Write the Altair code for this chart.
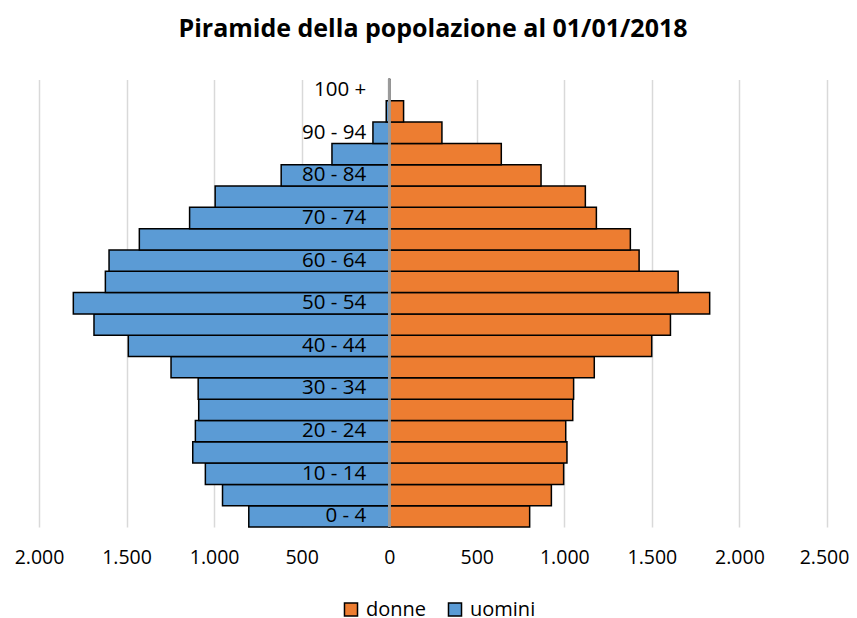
import altair as alt
import pandas as pd

ages = ["0 - 4", "5 - 9", "10 - 14", "15 - 19", "20 - 24", "25 - 29", "30 - 34",
        "35 - 39", "40 - 44", "45 - 49", "50 - 54", "55 - 59", "60 - 64", "65 - 69",
        "70 - 74", "75 - 79", "80 - 84", "85 - 89", "90 - 94", "95 - 99", "100 +"]
uomini = [802, 952, 1050, 1122, 1107, 1088, 1091, 1246, 1490, 1686, 1804, 1621,
          1600, 1427, 1140, 994, 617, 327, 93, 17, 3]
donne = [802, 926, 996, 1015, 1008, 1048, 1053, 1171, 1499, 1606, 1830, 1650,
         1427, 1377, 1183, 1120, 867, 640, 301, 82, 4]
tick_values = [-2000, -1500, -1000, -500, 0, 500, 1000, 1500, 2000, 2500]

rows = []
for a, m, f in zip(ages, uomini, donne):
    rows.append({"age": a, "sesso": "uomini", "value": -m})
    rows.append({"age": a, "sesso": "donne", "value": f})
df = pd.DataFrame(rows)

labels_df = pd.DataFrame({"age": [a for i, a in enumerate(ages) if i % 2 == 0]})
labels_df["zero"] = 0

order = list(reversed(ages))
FONT = "Open Sans"

xscale = alt.Scale(domain=[-2000, 2500], nice=False, zero=False)
yscale = alt.Scale(domain=order, paddingInner=0, paddingOuter=0)

bars = alt.Chart(df).mark_bar(stroke="black", strokeWidth=1.5).encode(
    x=alt.X("value:Q", scale=xscale,
            axis=alt.Axis(values=tick_values, title=None, domain=False, ticks=False,
                          grid=True, gridColor="#d9d9d9", gridWidth=1.5,
                          labelFont=FONT, labelFontSize=19.5, labelColor="black",
                          labelPadding=21, labelFlush=False, labelOverlap=False,
                          labelOffset={"condition": {"test": "datum.value == 2500", "value": -3},
                                       "value": 0},
                          labelExpr="replace(format(abs(datum.value), ','), ',', '.')")),
    y=alt.Y("age:N", scale=yscale, sort=order, axis=None),
    color=alt.Color("sesso:N",
                    scale=alt.Scale(domain=["donne", "uomini"], range=["#ED7D31", "#5B9BD5"]),
                    legend=alt.Legend(title=None, orient="none", direction="horizontal",
                                      legendX=302, legendY=520,
                                      symbolType="square", symbolSize=170,
                                      symbolStrokeColor="black", symbolStrokeWidth=1.5,
                                      symbolOpacity=1,
                                      labelFont=FONT, labelFontSize=20, labelColor="black",
                                      labelOffset=5, columnPadding=18)),
)

zero_line = alt.Chart(labels_df).mark_rule(color="#9a9a9a", strokeWidth=2).encode(
    x=alt.X("zero:Q", scale=xscale),
)

texts = alt.Chart(labels_df).mark_text(align="right", baseline="middle", dx=-23,
                                       font=FONT, fontSize=20.5, color="black").encode(
    x=alt.X("zero:Q", scale=xscale),
    y=alt.Y("age:N", scale=yscale, sort=order),
    text="age:N",
)

chart = alt.layer(bars, zero_line, texts).properties(
    width=788, height=447.5,
    title=alt.Title("Piramide della popolazione al 01/01/2018", font=FONT, fontSize=25,
                    fontWeight="bold", color="black", anchor="middle",
                    baseline="alphabetic", offset=17),
    autosize=alt.AutoSizeParams(type="none"),
    padding={"left": 31, "top": 71.5, "right": 22, "bottom": 91},
).configure_view(stroke=None)

chart.save("out.html", embed_options={"renderer": "svg", "actions": False})
